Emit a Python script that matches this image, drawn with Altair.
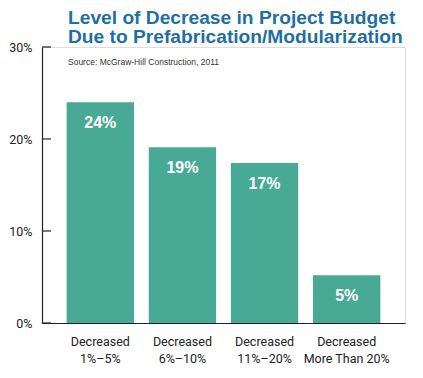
import altair as alt
import pandas as pd

categories = ["Decreased\n1%–5%", "Decreased\n6%–10%", "Decreased\n11%–20%", "Decreased\nMore Than 20%"]
values = [24.0, 19.1, 17.4, 5.2]
labels = ["24%", "19%", "17%", "5%"]
ticks = [0, 10, 20, 30]

title_lines = ["Level of Decrease in Project Budget", "Due to Prefabrication/Modularization"]
source = "Source: McGraw-Hill Construction, 2011"

df = pd.DataFrame({"cat": categories, "val": values, "lab": labels})
tick_df = pd.DataFrame({"t": ticks})

BAR = "#48a994"
BLUE = "#1f6fa3"

x_enc = alt.X("cat:N", sort=categories,
              scale=alt.Scale(paddingInner=0.18, paddingOuter=0.3),
              axis=alt.Axis(title=None, labelAngle=0, ticks=False, domain=True,
                            domainColor="#222", domainWidth=1.2,
                            labelFont="Roboto", labelFontSize=12.5, labelColor="#222",
                            labelPadding=12, labelLineHeight=17,
                            labelExpr="split(datum.label, '\\n')"))
y_scale = alt.Scale(domain=[0, 30], nice=False)

bars = alt.Chart(df).mark_bar(color=BAR).encode(
    x=x_enc,
    y=alt.Y("val:Q", scale=y_scale,
            axis=alt.Axis(title=None, values=ticks, ticks=False, grid=False,
                          labelExpr="datum.value + '%'", labelFont="Roboto",
                          labelFontSize=12.5, labelColor="#222", labelPadding=10,
                          domainColor="#222", domainWidth=1.2))
)

text = alt.Chart(df).mark_text(color="white", font="Liberation Sans", fontWeight="bold",
                               fontSize=16, baseline="middle", dy=21).encode(
    x=alt.X("cat:N", sort=categories),
    y=alt.Y("val:Q", scale=y_scale),
    text="lab:N"
)

tick_marks = alt.Chart(tick_df).mark_rule(color="#222", strokeWidth=1.2).encode(
    y=alt.Y("t:Q", scale=y_scale),
    x=alt.value(0),
    x2=alt.value(9)
)

title1 = alt.Chart(pd.DataFrame({"s": [title_lines[0]]})).mark_text(
    color=BLUE, font="Liberation Sans", fontWeight="bold",
    fontSize=19.2, align="left", baseline="alphabetic"
).encode(x=alt.value(26), y=alt.value(-23), text="s:N")

title2 = alt.Chart(pd.DataFrame({"s": [title_lines[1]]})).mark_text(
    color=BLUE, font="Liberation Sans", fontWeight="bold",
    fontSize=19.2, align="left", baseline="alphabetic"
).encode(x=alt.value(26), y=alt.value(-4), text="s:N")

sub = alt.Chart(pd.DataFrame({"s": [source]})).mark_text(
    color="#333", font="Liberation Sans", fontSize=8.5, align="left", baseline="middle"
).encode(x=alt.value(26), y=alt.value(15), text="s:N")

chart = alt.layer(bars, tick_marks, text, title1, title2, sub).properties(
    width=363, height=276,
    autosize=alt.AutoSizeParams(type="none"),
    padding={"left": 34, "top": 39, "right": 5, "bottom": 47}
).configure_view(stroke=None).configure(background="white")

chart.save("out.html", embed_options={"renderer": "svg", "actions": False})
